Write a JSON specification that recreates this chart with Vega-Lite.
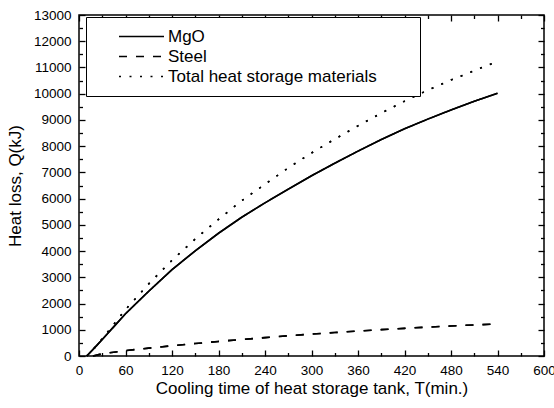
{
  "$schema": "https://vega.github.io/schema/vega-lite/v6.json",
  "width": 465,
  "height": 341,
  "autosize": {"type": "none"},
  "padding": {"left": 79, "top": 15, "right": 10, "bottom": 52},
  "background": "white",
  "data": {
    "values": [
      {"series": "MgO", "T": 10, "Q": 0},
      {"series": "MgO", "T": 20, "Q": 310},
      {"series": "MgO", "T": 30, "Q": 630},
      {"series": "MgO", "T": 45, "Q": 1120},
      {"series": "MgO", "T": 60, "Q": 1610},
      {"series": "MgO", "T": 90, "Q": 2470},
      {"series": "MgO", "T": 120, "Q": 3290},
      {"series": "MgO", "T": 150, "Q": 4010},
      {"series": "MgO", "T": 180, "Q": 4680},
      {"series": "MgO", "T": 210, "Q": 5290},
      {"series": "MgO", "T": 240, "Q": 5840},
      {"series": "MgO", "T": 270, "Q": 6360},
      {"series": "MgO", "T": 300, "Q": 6870},
      {"series": "MgO", "T": 330, "Q": 7350},
      {"series": "MgO", "T": 360, "Q": 7810},
      {"series": "MgO", "T": 390, "Q": 8250},
      {"series": "MgO", "T": 420, "Q": 8660},
      {"series": "MgO", "T": 450, "Q": 9030},
      {"series": "MgO", "T": 480, "Q": 9380},
      {"series": "MgO", "T": 510, "Q": 9710},
      {"series": "MgO", "T": 540, "Q": 10015},
      {"series": "Steel", "T": 18, "Q": 0},
      {"series": "Steel", "T": 30, "Q": 85},
      {"series": "Steel", "T": 60, "Q": 205},
      {"series": "Steel", "T": 90, "Q": 300},
      {"series": "Steel", "T": 120, "Q": 390},
      {"series": "Steel", "T": 150, "Q": 475},
      {"series": "Steel", "T": 180, "Q": 555},
      {"series": "Steel", "T": 210, "Q": 630},
      {"series": "Steel", "T": 240, "Q": 700},
      {"series": "Steel", "T": 270, "Q": 770},
      {"series": "Steel", "T": 300, "Q": 835},
      {"series": "Steel", "T": 330, "Q": 895},
      {"series": "Steel", "T": 360, "Q": 950},
      {"series": "Steel", "T": 390, "Q": 1005},
      {"series": "Steel", "T": 420, "Q": 1055},
      {"series": "Steel", "T": 450, "Q": 1100},
      {"series": "Steel", "T": 480, "Q": 1145},
      {"series": "Steel", "T": 510, "Q": 1185},
      {"series": "Steel", "T": 540, "Q": 1220},
      {"series": "Total heat storage materials", "T": 10, "Q": 0},
      {"series": "Total heat storage materials", "T": 20, "Q": 310},
      {"series": "Total heat storage materials", "T": 30, "Q": 660},
      {"series": "Total heat storage materials", "T": 45, "Q": 1210},
      {"series": "Total heat storage materials", "T": 60, "Q": 1770},
      {"series": "Total heat storage materials", "T": 90, "Q": 2750},
      {"series": "Total heat storage materials", "T": 120, "Q": 3650},
      {"series": "Total heat storage materials", "T": 150, "Q": 4460},
      {"series": "Total heat storage materials", "T": 180, "Q": 5210},
      {"series": "Total heat storage materials", "T": 210, "Q": 5920},
      {"series": "Total heat storage materials", "T": 240, "Q": 6550},
      {"series": "Total heat storage materials", "T": 270, "Q": 7170},
      {"series": "Total heat storage materials", "T": 300, "Q": 7740},
      {"series": "Total heat storage materials", "T": 330, "Q": 8270},
      {"series": "Total heat storage materials", "T": 360, "Q": 8775},
      {"series": "Total heat storage materials", "T": 390, "Q": 9260},
      {"series": "Total heat storage materials", "T": 420, "Q": 9715},
      {"series": "Total heat storage materials", "T": 450, "Q": 10135},
      {"series": "Total heat storage materials", "T": 480, "Q": 10520},
      {"series": "Total heat storage materials", "T": 510, "Q": 10880},
      {"series": "Total heat storage materials", "T": 540, "Q": 11230}
    ]
  },
  "config": {
    "font": "Liberation Sans",
    "view": {"stroke": "black", "strokeWidth": 1.5},
    "axis": {
      "domain": false,
      "tickColor": "black",
      "tickWidth": 1.3,
      "labelFont": "Liberation Sans",
      "labelFontSize": 13.5,
      "labelColor": "black",
      "titleFont": "Liberation Sans",
      "titleFontSize": 17,
      "titleFontWeight": "normal",
      "titleColor": "black",
      "grid": false,
      "labelFlush": false,
      "labelOverlap": false
    },
    "legend": {
      "orient": "none",
      "legendX": 7,
      "legendY": 2,
      "padding": 10,
      "fillColor": "white",
      "strokeColor": "black",
      "clipHeight": 19,
      "rowPadding": 1,
      "symbolType": "stroke",
      "symbolSize": 2025,
      "symbolStrokeColor": "black",
      "symbolStrokeWidth": 1.6,
      "symbolOffset": 22,
      "labelOffset": 3,
      "labelFont": "Liberation Sans",
      "labelFontSize": 17,
      "labelColor": "black",
      "labelLimit": 400
    }
  },
  "layer": [
    {
      "mark": {"type": "line", "color": "black", "strokeWidth": 1.6},
      "encoding": {
        "x": {
          "field": "T", "type": "quantitative",
          "scale": {"domain": [0, 600], "nice": false, "zero": false},
          "axis": {
            "orient": "bottom",
            "offset": -6,
            "values": [0,60,120,180,240,300,360,420,480,540,600],
            "tickSize": 6,
            "labelPadding": 7,
            "title": "Cooling time of heat storage tank, T(min.)",
            "titlePadding": 4
          }
        },
        "y": {
          "field": "Q", "type": "quantitative",
          "scale": {"domain": [0, 13000], "nice": false},
          "axis": {
            "orient": "left",
            "offset": -6,
            "format": "d",
            "values": [0,1000,2000,3000,4000,5000,6000,7000,8000,9000,10000,11000,12000,13000],
            "tickSize": 6,
            "labelPadding": 8,
            "title": "Heat loss, Q(kJ)",
            "titlePadding": 9
          }
        },
        "strokeDash": {
          "field": "series", "type": "nominal",
          "scale": {"domain": ["MgO", "Steel", "Total heat storage materials"], "range": [[1, 0], [8, 9], [2, 8.5]]},
          "legend": {"title": null, "labelExpr": "datum.label + '\u2003\u2002\u2009\u2009\u200b'"}
        }
      }
    },
    {
      "transform": [{"filter": "datum.series === 'MgO'"}],
      "mark": {"type": "line", "color": "black", "strokeWidth": 1.6},
      "encoding": {
        "x": {
          "field": "T", "type": "quantitative",
          "scale": {"domain": [0, 600], "nice": false, "zero": false},
          "axis": {"orient": "top", "offset": -6, "values": [0,60,120,180,240,300,360,420,480,540,600], "tickSize": 6, "labels": false, "title": null}
        },
        "y": {
          "field": "Q", "type": "quantitative",
          "scale": {"domain": [0, 13000], "nice": false},
          "axis": {"orient": "right", "offset": -6, "values": [0,1000,2000,3000,4000,5000,6000,7000,8000,9000,10000,11000,12000,13000], "tickSize": 6, "labels": false, "title": null}
        }
      }
    },
    {
      "transform": [{"filter": "datum.series === 'Steel'"}],
      "mark": {"type": "line", "color": "black", "strokeWidth": 1.6, "strokeDash": [8, 9]},
      "encoding": {
        "x": {
          "field": "T", "type": "quantitative",
          "scale": {"domain": [0, 600], "nice": false, "zero": false},
          "axis": {"orient": "bottom", "offset": -3.5, "values": [30,90,150,210,270,330,390,450,510,570], "tickSize": 3.5, "labels": false, "title": null}
        },
        "y": {
          "field": "Q", "type": "quantitative",
          "scale": {"domain": [0, 13000], "nice": false},
          "axis": {"orient": "left", "offset": -3.5, "values": [500,1500,2500,3500,4500,5500,6500,7500,8500,9500,10500,11500,12500], "tickSize": 3.5, "labels": false, "title": null}
        }
      }
    },
    {
      "transform": [{"filter": "datum.series === 'Total heat storage materials'"}],
      "mark": {"type": "line", "color": "black", "strokeWidth": 1.6, "strokeDash": [2, 8.5]},
      "encoding": {
        "x": {
          "field": "T", "type": "quantitative",
          "scale": {"domain": [0, 600], "nice": false, "zero": false},
          "axis": {"orient": "top", "offset": -3.5, "values": [30,90,150,210,270,330,390,450,510,570], "tickSize": 3.5, "labels": false, "title": null}
        },
        "y": {
          "field": "Q", "type": "quantitative",
          "scale": {"domain": [0, 13000], "nice": false},
          "axis": {"orient": "right", "offset": -3.5, "values": [500,1500,2500,3500,4500,5500,6500,7500,8500,9500,10500,11500,12500], "tickSize": 3.5, "labels": false, "title": null}
        }
      }
    }
  ],
  "resolve": {"axis": {"x": "independent", "y": "independent"}}
}
